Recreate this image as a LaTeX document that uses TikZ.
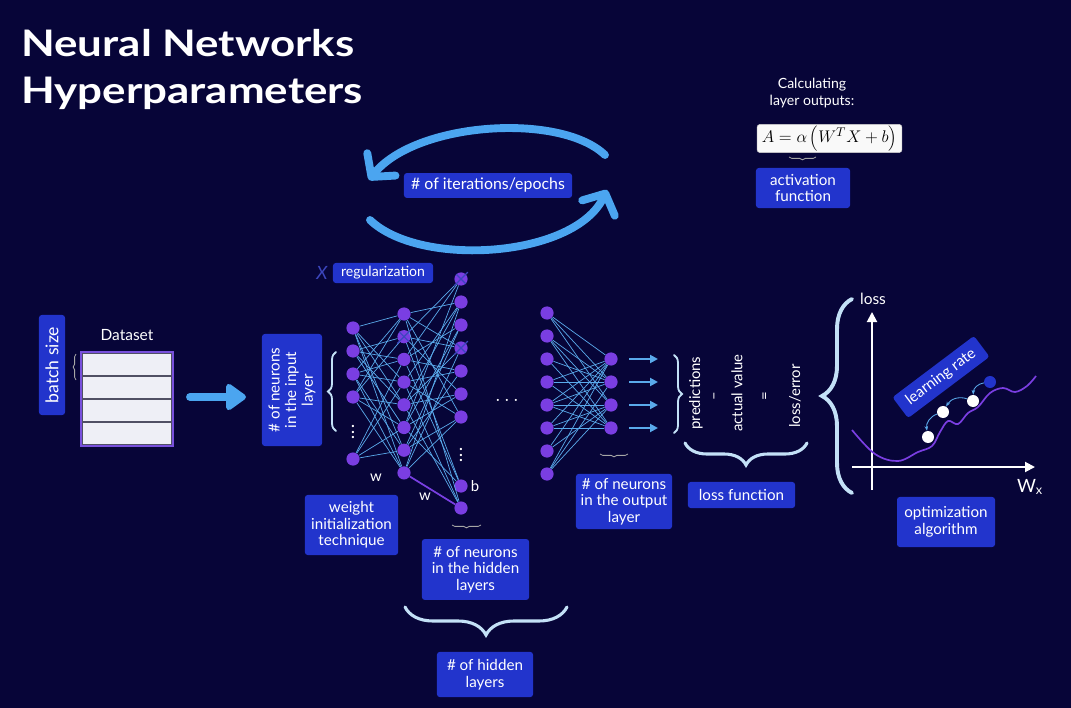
\documentclass[tikz,border=0pt]{standalone}
\usepackage{fontspec}
\setmainfont{Lato}
\newfontfamily\titlefont{Lato}[FakeStretch=1.2]
\usepackage{xcolor}
\usetikzlibrary{arrows.meta,decorations.pathreplacing,calc}
\definecolor{bgNavy}{RGB}{7,5,56}
\definecolor{boxBlue}{RGB}{34,52,204}
\definecolor{nPurple}{RGB}{122,62,226}
\definecolor{linkBlue}{RGB}{90,170,235}
\definecolor{arcBlue}{RGB}{75,165,240}
\definecolor{braceLight}{RGB}{195,225,247}
\definecolor{crossBlue}{RGB}{60,70,190}
\definecolor{rowGray}{RGB}{238,239,246}
\definecolor{rowLine}{RGB}{80,80,100}
\definecolor{dataEdge}{RGB}{120,80,220}
\tikzset{
  hpbox/.style={fill=boxBlue, text=white, rounded corners=2pt, align=center, inner sep=2pt, font=\fontsize{10.8}{11.8}\selectfont},
  lbl/.style={text=white, font=\fontsize{10.6}{12}\selectfont},
  neuron/.style={circle, fill=nPurple, inner sep=0pt, minimum size=0.33cm},
  nlink/.style={linkBlue, line width=0.5pt},
  epochArc/.style={arcBlue, line width=5.6pt, line cap=round, -{Straight Barb[length=4mm, width=9mm, round]}},
  bigbrace/.style={decorate, decoration={brace, amplitude=#1}, braceLight, line width=2.2pt, line cap=round},
  smallbrace/.style={decorate, decoration={brace, amplitude=#1}, gray!70, line width=0.6pt},
  datarow/.style={draw=rowLine, fill=rowGray, line width=1pt, minimum width=2.25cm, minimum height=0.575cm, inner sep=0pt},
  axis/.style={white, line width=1.4pt, -{Triangle[length=2.5mm, width=2.5mm]}},
  ball/.style={circle, fill=white, inner sep=0pt, minimum size=0.3cm}
}
\begin{document}
\begin{tikzpicture}[x=0.025cm, y=-0.025cm, >=Stealth]
  \fill[bgNavy] (0,0) rectangle (1071,708);
  \node[anchor=base west, inner sep=0pt, text=white, font=\fontsize{26}{33}\titlefont\bfseries] (title1) at (21,57) {Neural Networks};
  \node[anchor=base west, inner sep=0pt, text=white, font=\fontsize{26}{33}\titlefont\bfseries] (title2) at (21,104) {Hyperparameters};

  \node[lbl, align=center, font=\fontsize{10}{11.5}\selectfont] (calc) at (812,93) {Calculating\\layer outputs:};
  \node[fill=white!95!gray, draw=gray!40, rounded corners=2pt, minimum width=3.62cm, minimum height=0.68cm, inner sep=1pt, font=\fontsize{13}{14}\selectfont] (formula) at (829.5,138.5) {$A=\alpha\left(W^{T}X+b\right)$};
  \draw[smallbrace=2pt] (816,157) -- (789,157);
  \node[hpbox, minimum width=2.35cm, minimum height=1cm] (act) at (803,188) {activation\\function};

  \node[hpbox, font=\fontsize{11.3}{12}\selectfont, minimum width=4.2cm, minimum height=0.62cm] (epochs) at (488,185.5) {\# of iterations/epochs};
  \coordinate (arcA) at (605,155);
  \coordinate (arcB) at (369,180);
  \coordinate (arcC) at (370,220);
  \coordinate (arcD) at (607,190);
  \draw[epochArc] (arcA) .. controls (560,112) and (415,122) .. (arcB);
  \draw[epochArc] (arcC) .. controls (420,268) and (575,258) .. (arcD);

  \node[lbl, font=\fontsize{11}{12}\selectfont] (dslabel) at (127,335) {Dataset};
  \foreach \k in {1,...,4}
    \node[datarow] (row\k) at (127,{341.5+23*\k}) {};
  \draw[dataEdge, line width=1.4pt] (row1.north west) rectangle (row4.south east);
  \draw[smallbrace=2pt] (76,380) -- (76,354);
  \node[hpbox, rotate=90, minimum width=2.5cm, minimum height=0.65cm, font=\fontsize{12.5}{13}\selectfont] (batch) at (52,365) {batch size};
  \coordinate (dsout) at (190,397);
  \coordinate (netin) at (246,397);
  \draw[arcBlue, line width=5.6pt, line cap=round, -{Triangle[length=5.5mm, width=7.5mm, round]}] (dsout) -- (netin);

  \node[hpbox, rotate=90, minimum width=2.8cm, minimum height=1.5cm] (inbox) at (292,390) {\# of neurons\\in the input\\layer};
  \draw[bigbrace=0.2cm, line width=1.3pt] (336,431) -- (336,352);

  \foreach \y [count=\k] in {328,351,374,397,459}
    \node[neuron] (in\k) at (353,\y) {};
  \foreach \k in {1,...,8}
    \node[neuron] (ha\k) at (404,{314+22.7*(\k-1)}) {};
  \foreach \y [count=\k] in {279,302,325,348,371,394,417,486,508}
    \node[neuron] (hb\k) at (461,\y) {};
  \foreach \k in {1,...,8}
    \node[neuron] (hc\k) at (547,{313+23*(\k-1)}) {};
  \foreach \k in {1,...,4}
    \node[neuron] (out\k) at (611,{359+23*(\k-1)}) {};

  \foreach \a in {1,...,5}
    \foreach \b in {1,...,8}{
      \pgfmathtruncatemacro\m{mod(3*\a+5*\b,7)}
      \ifnum\m<4 \draw[nlink] (in\a) -- (ha\b); \fi
    }
  \foreach \a in {1,...,8}
    \foreach \b in {1,...,9}{
      \pgfmathtruncatemacro\m{mod(2*\a+3*\b,7)}
      \ifnum\m<3 \draw[nlink] (ha\a) -- (hb\b); \fi
    }
  \foreach \a in {1,...,8}
    \foreach \b in {1,...,4}{
      \pgfmathtruncatemacro\m{mod(\a+3*\b,7)}
      \ifnum\m<5 \draw[nlink] (hc\a) -- (out\b); \fi
    }
  \draw[nPurple, line width=1.2pt] (ha8) -- (hb9);
  \foreach \n in {hb1,ha2,hb4}
    \draw[crossBlue, line width=0.8pt, shorten <=-2pt, shorten >=-2pt] (\n.north west) -- (\n.south east) (\n.north east) -- (\n.south west);

  \node[text=crossBlue, font=\fontsize{13}{13}\selectfont\itshape] (dropx) at (322,273) {X};
  \node[hpbox, font=\fontsize{10}{11}\selectfont, minimum width=2.5cm, minimum height=0.5cm] (reg) at (383,273) {regularization};

  \node[lbl, font=\fontsize{13}{13}\selectfont] (indots) at (353,428) {$\vdots$};
  \node[lbl, font=\fontsize{13}{13}\selectfont] (hbdots) at (461,451) {$\vdots$};
  \node[lbl, font=\fontsize{14}{14}\selectfont] (hdots) at (507,401) {$\cdots$};
  \node[lbl] (wlbl1) at (376,478) {w};
  \node[lbl] (wlbl2) at (425,497) {w};
  \node[lbl] (blbl) at (475,486) {b};

  \foreach \k in {1,...,4}{
    \coordinate (pred\k) at (658,{359+23*(\k-1)});
    \draw[linkBlue, line width=1.4pt, -{Triangle[length=2mm, width=2mm]}, shorten <=8pt] (out\k) -- (pred\k);
  }
  \draw[bigbrace=0.2cm, line width=1.3pt] (674,355) -- (674,433);
  \draw[smallbrace=2pt] (481,525) -- (452,525);
  \draw[smallbrace=2pt] (628,454) -- (600,454);

  \node[hpbox, minimum width=2.33cm, minimum height=1.5cm] (winit) at (351.5,525) {weight\\initialization\\technique};
  \node[hpbox, minimum width=2.68cm, minimum height=1.52cm] (hidn) at (475.5,569.5) {\# of neurons\\in the hidden\\layers};
  \node[hpbox, minimum width=2.4cm, minimum height=1.38cm] (outn) at (624,501.5) {\# of neurons\\in the output\\layer};
  \draw[bigbrace=0.7cm] (567,607) -- (405,607);
  \node[hpbox, minimum width=2.4cm, minimum height=1.13cm] (nhid) at (485,674.5) {\# of hidden\\layers};

  \node[lbl, rotate=90] (predtxt) at (696,393) {predictions};
  \node[lbl, rotate=90] (minus) at (716,396) {--};
  \node[lbl, rotate=90] (actual) at (737,393) {actual value};
  \node[lbl, rotate=90] (eqs) at (766,396) {=};
  \node[lbl, rotate=90] (losserr) at (795,396) {loss/error};
  \draw[bigbrace=0.55cm] (807,443) -- (685,443);
  \node[hpbox, minimum width=2.68cm, minimum height=0.65cm] (lossfn) at (741.5,495) {loss function};

  \draw[bigbrace=0.75cm, line width=2.8pt] (852,493) -- (852,299);
  \coordinate (yb) at (872,490);
  \coordinate (yt) at (872,312);
  \coordinate (xl) at (852,467);
  \coordinate (xr) at (1035,467);
  \draw[axis] (yb) -- (yt);
  \draw[axis] (xl) -- (xr);
  \node[lbl, font=\fontsize{11}{12}\selectfont] (losslbl) at (873,299) {loss};
  \node[lbl, font=\fontsize{13}{14}\selectfont] (wx) at (1030,487) {W\textsubscript{x}};
  \draw[nPurple, line width=1.2pt] plot[smooth, tension=0.6] coordinates {(852,430) (875,454) (898,461) (918,452) (932,446) (940,432) (948,421) (958,424) (968,413) (978,407) (990,393) (1003,388) (1015,392) (1027,386) (1036,376)};
  \node[hpbox, rotate=37, minimum width=2.55cm, minimum height=0.65cm] (lrate) at (941,377) {learning rate};
  \node[ball] (ball1) at (928,437) {};
  \node[ball] (ball2) at (943,412) {};
  \node[ball] (ball3) at (973,401) {};
  \node[ball, fill=boxBlue] (ball4) at (990,382) {};
  \draw[linkBlue, line width=0.6pt, -{Stealth[length=1.2mm]}] (ball4) to[bend right=40] (ball3);
  \draw[linkBlue, line width=0.6pt, -{Stealth[length=1.2mm]}] (ball3) to[bend right=40] (ball2);
  \draw[linkBlue, line width=0.6pt, -{Stealth[length=1.2mm]}] (ball2) to[bend right=40] (ball1);
  \node[hpbox, minimum width=2.45cm, minimum height=1.25cm] (optim) at (946,522) {optimization\\algorithm};
\end{tikzpicture}
\end{document}
